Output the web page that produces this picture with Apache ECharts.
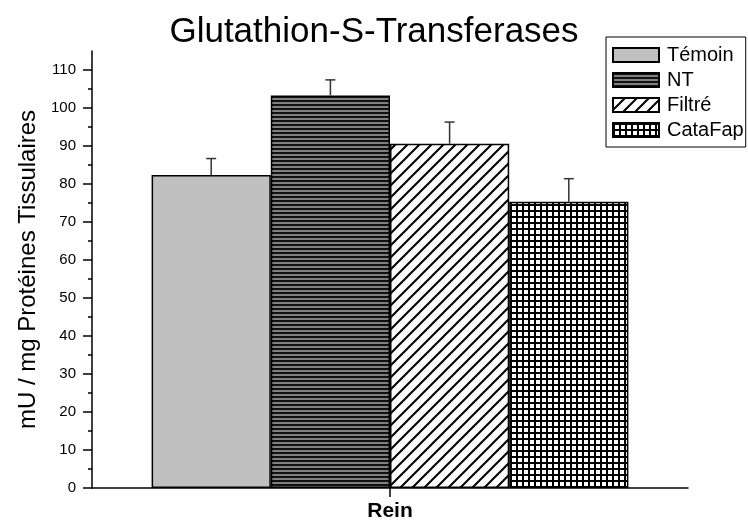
<!DOCTYPE html>
<html>
<head>
<meta charset="utf-8">
<script src="https://cdn.jsdelivr.net/npm/echarts@6/dist/echarts.min.js"></script>
<style>html,body{margin:0;padding:0;background:#fff}#c{width:748px;height:524px}</style>
</head>
<body>
<div id="c"></div>
<script>
const categories = ['Rein'];
const seriesNames = ['Témoin', 'NT', 'Filtré', 'CataFap'];
const means = [82.4, 103.3, 90.6, 75.3];
const errors = [4.3, 4.1, 5.7, 6.1];
const yTicks = [0, 10, 20, 30, 40, 50, 60, 70, 80, 90, 100, 110];
const yMinorTicks = [5, 15, 25, 35, 45, 55, 65, 75, 85, 95, 105];

const FONT = "'Liberation Sans', Arial, sans-serif";

function makeCanvas(w, h, draw) {
  const c = document.createElement('canvas');
  c.width = w; c.height = h;
  draw(c.getContext('2d'), w, h);
  return c;
}
const patTemoin = '#c0c0c0';
const patNT = makeCanvas(4, 4, (ctx, w, h) => {
  ctx.fillStyle = '#808080'; ctx.fillRect(0, 0, w, h);
  ctx.fillStyle = '#111'; ctx.fillRect(0, 0, w, 2);
});
const patFiltre = makeCanvas(12, 12, (ctx, w, h) => {
  ctx.fillStyle = '#fff'; ctx.fillRect(0, 0, w, h);
  ctx.strokeStyle = '#000'; ctx.lineWidth = 2;
  ctx.beginPath();
  ctx.moveTo(-2, h + 2); ctx.lineTo(w + 2, -2);
  ctx.moveTo(-2, 2); ctx.lineTo(2, -2);
  ctx.moveTo(w - 2, h + 2); ctx.lineTo(w + 2, h - 2);
  ctx.stroke();
});
const patCata = makeCanvas(6, 6, (ctx, w, h) => {
  ctx.fillStyle = '#fff'; ctx.fillRect(0, 0, w, h);
  ctx.fillStyle = '#000';
  ctx.fillRect(0, 0, w, 2);
  ctx.fillRect(0, 0, 2, h);
});
const fills = [
  patTemoin,
  { image: patNT, repeat: 'repeat' },
  { image: patFiltre, repeat: 'repeat' },
  { image: patCata, repeat: 'repeat' }
];

const barSeries = seriesNames.map((name, i) => ({
  type: 'bar',
  name: name,
  data: [means[i]],
  barGap: 0,
  barCategoryGap: '20%',
  itemStyle: { color: fills[i], borderColor: '#000', borderWidth: 1.5 },
  z: 2
}));

const errData = means.map((m, i) => [0, m, errors[i], i]);
const errSeries = {
  type: 'custom',
  name: 'err',
  data: errData,
  encode: { x: 0, y: 1 },
  z: 5,
  renderItem: function (params, api) {
    const idx = api.value(3);
    const base = api.coord([0, api.value(1)]);
    const top = api.coord([0, api.value(1) + api.value(2)]);
    const band = api.size([1, 0])[0];
    const bw = band * 0.8 / seriesNames.length;
    const x = base[0] - bw * seriesNames.length / 2 + (idx + 0.5) * bw;
    const st = { stroke: '#333', lineWidth: 1.5 };
    return {
      type: 'group',
      children: [
        { type: 'line', shape: { x1: x, y1: base[1], x2: x, y2: top[1] }, style: st },
        { type: 'line', shape: { x1: x - 5, y1: top[1], x2: x + 5, y2: top[1] }, style: st }
      ]
    };
  }
};

const chart = echarts.init(document.getElementById('c'), null, { renderer: 'canvas' });
chart.setOption({
  animation: false,
  backgroundColor: '#fff',
  textStyle: { fontFamily: FONT },
  title: {
    text: 'Glutathion-S-Transferases',
    left: 'center',
    top: 10,
    textStyle: { fontFamily: FONT, fontSize: 35, fontWeight: 'normal', color: '#000' }
  },
  legend: {
    data: seriesNames,
    orient: 'vertical',
    left: 606,
    top: 37,
    padding: [8, 2, 7, 6],
    itemWidth: 46,
    itemHeight: 14,
    itemGap: 5,
    borderColor: '#000',
    borderWidth: 1,
    icon: 'rect',
    textStyle: { fontFamily: FONT, fontSize: 20, color: '#000', padding: [0, 0, 0, 3] }
  },
  grid: { left: 92, right: 60, top: 51, bottom: 36, containLabel: false },
  xAxis: {
    type: 'category',
    data: categories,
    axisLine: { show: true, lineStyle: { color: '#000', width: 1.5 } },
    axisTick: { show: true, alignWithLabel: true, length: 9, lineStyle: { color: '#000', width: 1.5 } },
    axisLabel: { fontFamily: FONT, fontSize: 21, fontWeight: 'bold', color: '#000', margin: 13 },
    splitLine: { show: false }
  },
  yAxis: [
    {
      type: 'value',
      min: 0, max: 115, interval: 10,
      position: 'left',
      name: 'mU / mg Protéines Tissulaires',
      nameLocation: 'middle',
      nameGap: 52,
      nameTextStyle: { fontFamily: FONT, fontSize: 24, color: '#000' },
      axisLine: { show: true, lineStyle: { color: '#000', width: 1.5 } },
      axisTick: { show: true, length: 9, customValues: yTicks, lineStyle: { color: '#000', width: 1.5 } },
      axisLabel: { customValues: yTicks, fontFamily: FONT, fontSize: 15, color: '#000', margin: 16 },
      splitLine: { show: false }
    },
    {
      type: 'value',
      min: 0, max: 115, interval: 10,
      position: 'left',
      offset: 0,
      axisLine: { show: false },
      axisTick: { show: true, length: 4, customValues: yMinorTicks, lineStyle: { color: '#000', width: 1.5 } },
      axisLabel: { show: false },
      splitLine: { show: false }
    }
  ],
  series: barSeries.concat([errSeries])
});
</script>
</body>
</html>
